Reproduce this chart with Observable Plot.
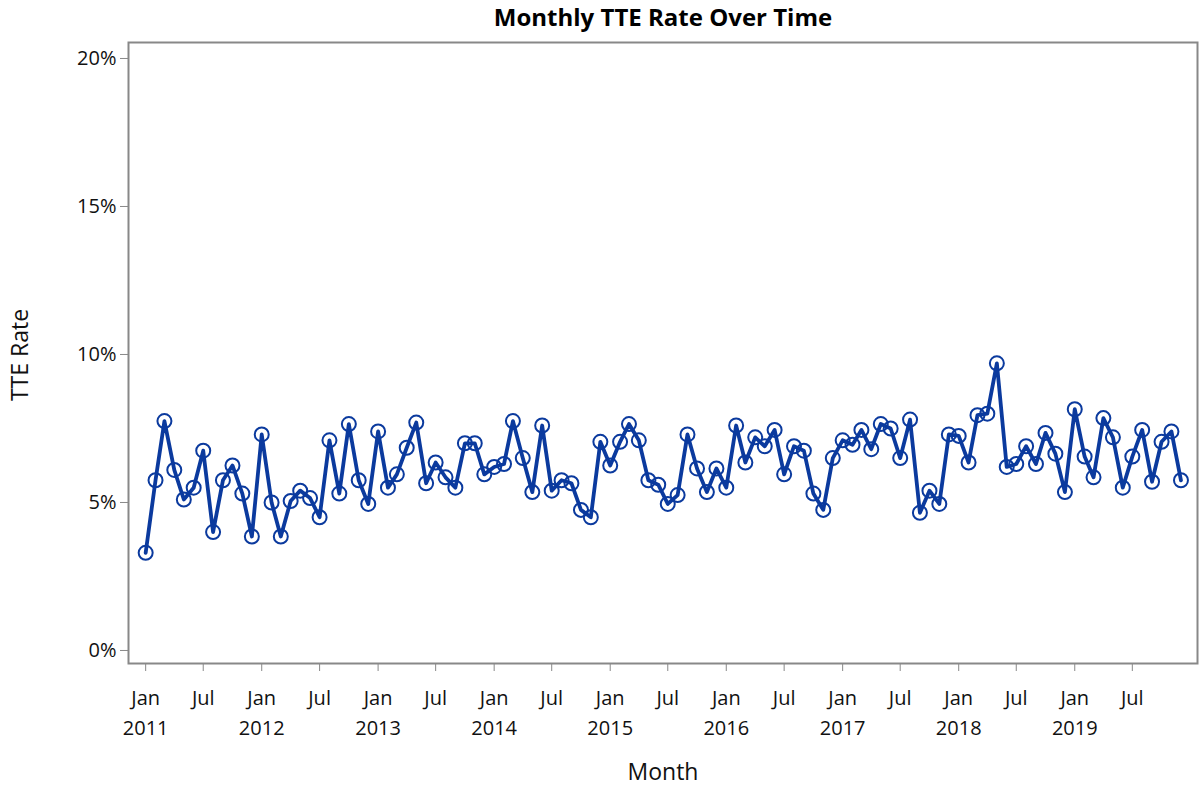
<!DOCTYPE html>
<html><head><meta charset="utf-8">
<script src="https://cdn.jsdelivr.net/npm/d3@7"></script>
<script src="https://cdn.jsdelivr.net/npm/@observablehq/plot@0.6"></script>
<style>body{margin:0;background:#fff;font-family:"Open Sans",sans-serif}</style>
</head><body><div id="c"></div>
<script>
const startYear = 2011;
const rates = [
3.3,5.75,7.75,6.1,5.1,5.5,6.75,4.0,5.75,6.25,5.3,3.85,
7.3,5.0,3.85,5.05,5.4,5.15,4.5,7.1,5.3,7.65,5.75,4.95,
7.4,5.5,5.95,6.85,7.7,5.65,6.35,5.85,5.5,7.0,7.0,5.95,
6.2,6.3,7.75,6.5,5.35,7.6,5.4,5.75,5.65,4.75,4.5,7.05,
6.25,7.05,7.65,7.1,5.75,5.6,4.95,5.25,7.3,6.15,5.35,6.15,
5.5,7.6,6.35,7.2,6.9,7.45,5.95,6.9,6.75,5.3,4.75,6.5,
7.1,6.95,7.45,6.8,7.65,7.5,6.5,7.8,4.65,5.4,4.95,7.3,
7.25,6.35,7.95,8.0,9.7,6.2,6.3,6.9,6.3,7.35,6.65,5.35,
8.15,6.55,5.85,7.85,7.2,5.5,6.55,7.45,5.7,7.05,7.4,5.75];
const yTicks = [0,5,10,15,20];
const data = rates.map((v,i)=>({date:new Date(Date.UTC(startYear,i,1)),rate:v}));
const xTicks = d3.range(0,108,6).map(i=>new Date(Date.UTC(startYear,i,1)));
const blue = "#0b3a9e";
const chart = Plot.plot({
  width:1200,height:788,
  marginLeft:128,marginRight:3,marginTop:42,marginBottom:125,
  style:{fontFamily:"Open Sans, sans-serif",fontSize:"20px",color:"#111"},
  x:{type:"utc",domain:[new Date(Date.UTC(2010,10,8)),new Date(Date.UTC(2020,0,22))]},
  y:{domain:[-0.44,20.54]},
  marks:[
    Plot.frame({stroke:"#888",strokeWidth:2}),
    Plot.axisY({ticks:yTicks,tickFormat:d=>d+"%",tickSize:8,tickPadding:4,label:null,stroke:"#888"}),
    Plot.axisX({ticks:xTicks,tickSize:8,tickPadding:12,label:null,
      tickFormat:d=>d.getUTCMonth()===0?"Jan\n"+d.getUTCFullYear():"Jul",lineHeight:1.5,stroke:"#888"}),
    Plot.line(data,{x:"date",y:"rate",stroke:blue,strokeWidth:3.8}),
    Plot.dot(data,{x:"date",y:"rate",r:7,stroke:blue,strokeWidth:2,fill:"none"})
  ]
});
const svg = d3.select(chart);
svg.append("text").attr("x",663).attr("y",26).attr("text-anchor","middle")
  .attr("font-size",24).attr("font-weight","bold").attr("fill","#000").text("Monthly TTE Rate Over Time");
svg.append("text").attr("transform","translate(28,355) rotate(-90)").attr("text-anchor","middle")
  .attr("font-size",23).attr("fill","#111").text("TTE Rate");
svg.append("text").attr("x",663).attr("y",780).attr("text-anchor","middle")
  .attr("font-size",23).attr("fill","#111").text("Month");
document.getElementById("c").appendChild(chart);
</script></body></html>
